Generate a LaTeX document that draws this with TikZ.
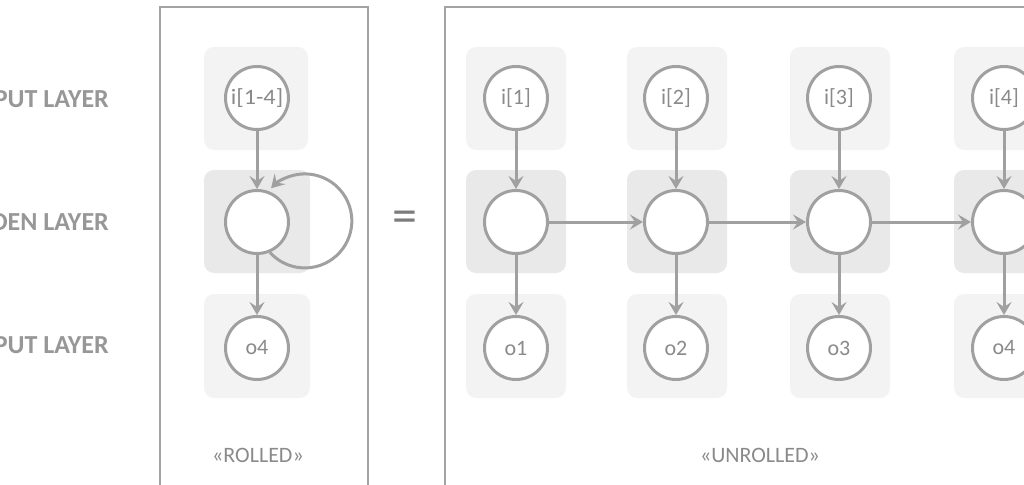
\documentclass[tikz,border=0pt]{standalone}
\usepackage{fontspec}
\setmainfont{Carlito}
\usetikzlibrary{arrows.meta}
\definecolor{edgegrey}{HTML}{A0A0A0}
\definecolor{framegrey}{HTML}{A3A3A3}
\definecolor{bglight}{HTML}{F3F3F3}
\definecolor{bgdark}{HTML}{E9E9E9}
\definecolor{textgrey}{HTML}{8A8A8A}
\definecolor{labelgrey}{HTML}{979797}
\definecolor{eqgrey}{HTML}{7C7C7C}
\tikzset{
  panel/.style={draw=framegrey, line width=2.2pt},
  bgio/.style={fill=bglight, rounded corners=10pt},
  bghid/.style={fill=bgdark, rounded corners=10pt},
  neuron/.style={circle, draw=edgegrey, fill=white, line width=3pt,
    minimum size=63pt, inner sep=0pt, text=textgrey,
    font=\fontsize{22}{22}\selectfont},
  arr/.style={draw=edgegrey, line width=3pt,
    -{Stealth[length=13pt,width=15pt,inset=5pt]}},
  layerlabel/.style={anchor=east, text=labelgrey, inner sep=0pt,
    font=\fontsize{26}{26}\selectfont\bfseries},
  paneltitle/.style={text=textgrey, font=\fontsize{22}{22}\selectfont},
}
\begin{document}
\begin{tikzpicture}[x=1pt,y=1pt]
\useasboundingbox (0,0) rectangle (1024,-484);
\clip (0,0) rectangle (1024,-484);

% layer names on the left
\node[layerlabel] (lin)  at (109,-99)  {INPUT LAYER};
\node[layerlabel] (lhid) at (109,-222) {HIDDEN LAYER};
\node[layerlabel] (lout) at (109,-345) {OUTPUT LAYER};

% panels
\draw[panel] (160,-520) -- (160,-7) -- (368,-7) -- (368,-520);
\draw[panel] (445,-520) -- (445,-7) -- (1100,-7);

% rolled network: row backgrounds
\fill[bgio]  (204,-47)  rectangle (308,-150);
\fill[bghid] (204,-170) rectangle (310,-273);
\fill[bgio]  (204,-294) rectangle (310,-398);

% unrolled network: row backgrounds
\foreach \cx in {516,677,840,1004} {
  \fill[bgio]  (\cx-50,-47)  rectangle (\cx+50,-150);
  \fill[bghid] (\cx-50,-170) rectangle (\cx+50,-273);
  \fill[bgio]  (\cx-50,-294) rectangle (\cx+50,-398);
}

% rolled network
\node[neuron] (iR) at (257,-98)  {\scalebox{1.1}[1]{i[1-4]}};
\node[neuron] (hR) at (257,-222) {};
\node[neuron] (oR) at (257,-348) {o4};
\draw[arr] (iR) -- (hR);
\draw[arr] (hR) -- (oR);
\draw[arr] (hR.-67) arc[start angle=222, end angle=496, radius=47];

\node[text=eqgrey, font=\fontsize{50}{50}\selectfont] (eq) at (405,-222) {=};

% unrolled network
\node[neuron] (i1) at (516,-98) {i[1]};
\node[neuron] (i2) at (676,-98) {i[2]};
\node[neuron] (i3) at (839,-98) {i[3]};
\node[neuron] (i4) at (1004,-98) {i[4]};
\node[neuron] (h1) at (516,-222) {};
\node[neuron] (h2) at (676,-222) {};
\node[neuron] (h3) at (839,-222) {};
\node[neuron] (h4) at (1004,-222) {};
\node[neuron] (o1) at (516,-348) {o1};
\node[neuron] (o2) at (676,-348) {o2};
\node[neuron] (o3) at (839,-348) {o3};
\node[neuron] (o4) at (1004,-348) {o4};
\foreach \k in {1,2,3,4} {
  \draw[arr] (i\k) -- (h\k);
  \draw[arr] (h\k) -- (o\k);
}
\draw[arr] (h1) -- (h2);
\draw[arr] (h2) -- (h3);
\draw[arr] (h3) -- (h4);

% panel titles
\node[paneltitle] (trolled)   at (258,-455) {«ROLLED»};
\node[paneltitle] (tunrolled) at (760,-455) {«UNROLLED»};
\end{tikzpicture}
\end{document}
